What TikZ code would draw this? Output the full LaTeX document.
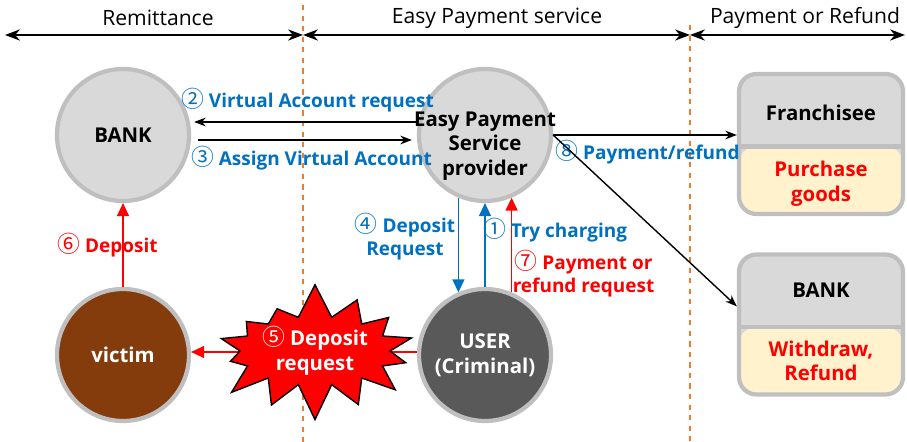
\documentclass[tikz,border=0pt]{standalone}
\usepackage{fontspec}
\setmainfont{Open Sans}
\newfontfamily\circfont{Noto Sans CJK KR}
\newcommand{\stepno}[1]{{\circfont\mdseries\fontsize{13}{13}\selectfont #1}}
\usetikzlibrary{arrows.meta,shapes.symbols}
\definecolor{flowblue}{RGB}{0,112,192}
\definecolor{flowred}{RGB}{255,0,0}
\definecolor{zoneorange}{RGB}{237,125,49}
\definecolor{discgray}{RGB}{217,217,217}
\definecolor{ringgray}{RGB}{191,191,191}
\definecolor{victimbrown}{RGB}{132,60,12}
\definecolor{userdark}{RGB}{89,89,89}
\definecolor{cream}{RGB}{255,242,204}
\begin{document}
\begin{tikzpicture}[
    >={Triangle[length=2.6mm,width=2.4mm]},
    line width=0.8pt,
    party/.style={circle, draw=ringgray, line width=2.4pt, minimum size=2.64cm, inner sep=0pt, font=\bfseries\fontsize{11.6}{14}\selectfont, align=center},
    lbl/.style={font=\bfseries\fontsize{10.8}{13}\selectfont, align=center, inner sep=1pt},
    big/.style={font=\bfseries\fontsize{11.6}{14}\selectfont, align=center, inner sep=1pt},
    zone/.style={font=\large, inner sep=1pt},
    outlet/.style={draw=ringgray, line width=2.4pt, rounded corners=0.35cm, fill=discgray,
      minimum width=3.28cm, minimum height=2.8cm,
      path picture={\fill[cream] (path picture bounding box.south west) rectangle ([yshift=-1.45cm]path picture bounding box.north east);
        \draw[ringgray, line width=2.4pt] ([yshift=-1.45cm]path picture bounding box.north west) -- ([yshift=-1.45cm]path picture bounding box.north east);}},
    divider/.style={zoneorange, dashed, line width=0.8pt}
]
  \useasboundingbox (0,0) rectangle (18.14,8.84);

  % zones on top
  \coordinate (z0) at (0.10,8.14);
  \coordinate (z1) at (6.06,8.14);
  \coordinate (z2) at (13.80,8.14);
  \coordinate (z3) at (18.10,8.14);
  \draw[divider] (6.06,8.74) -- (6.06,0);
  \draw[divider] (13.80,8.34) -- (13.80,0);
  \draw[{Stealth[length=3mm]}-{Stealth[length=3mm]}] (z0) -- (z1);
  \draw[{Stealth[length=3mm]}-{Stealth[length=3mm]}] (z1) -- (z2);
  \draw[{Stealth[length=3mm]}-{Stealth[length=3mm]}] (z2) -- (z3);
  \node[zone] (remit) at (3.16,8.48) {Remittance};
  \node[zone] (easy) at (9.94,8.48) {Easy Payment service};
  \node[zone] (payref) at (16.10,8.48) {Payment or Refund};

  % parties
  \node[party, fill=discgray] (bank) at (2.46,6.14) {BANK};
  \node[party, fill=discgray] (eps) at (9.70,6.14) {};
  \node[big] (epstext) at (9.70,5.92) {Easy Payment\\Service\\provider};
  \node[party, fill=victimbrown, text=white] (victim) at (2.46,1.74) {victim};
  \node[party, fill=userdark, text=white] (user) at (9.70,1.74) {USER\\(Criminal)};

  % outlets
  \node[outlet] (franch) at (16.42,5.96) {};
  \node[big] (franchtop) at (16.42,6.58) {Franchisee};
  \node[big, text=flowred] (franchbot) at (16.42,5.16) {Purchase\\goods};
  \node[outlet] (bankbox) at (16.42,2.35) {};
  \node[big] (bankboxtop) at (16.42,3.04) {BANK};
  \node[big, text=flowred] (bankboxbot) at (16.42,1.62) {Withdraw,\\Refund};

  % edges
  \draw[->, >=Stealth] ([yshift=0.26cm]eps.west) -- ([yshift=0.26cm,xshift=0.06cm]bank.east);
  \draw[->, >=Stealth] ([yshift=-0.10cm,xshift=0.14cm]bank.east) -- ([yshift=-0.10cm,xshift=-0.1cm]eps.west);
  \draw[->, flowblue] (eps.-113) -- (user.113);
  \draw[->, flowblue] (user.north) -- (eps.south);
  \draw[->, flowred] (user.67) -- (eps.-67);
  \draw[->, flowred] ([yshift=0.06cm]user.west) -- ([yshift=0.06cm]victim.east);
  \draw[->, flowred] (victim.north) -- (bank.south);
  \node[starburst, starburst points=14, starburst point height=0.7cm, random starburst=7,
        fill=flowred, draw=black, line width=0.8pt, minimum width=2.5cm, minimum height=2.3cm,
        text=white, font=\bfseries\fontsize{11.6}{14}\selectfont, align=center, inner sep=0pt] (burst) at (6.30,1.82) {\stepno{⑤} Deposit\\request};

  % step labels
  \node[lbl, text=flowblue] (s2) at (6.15,6.84) {\stepno{②} Virtual Account request};
  \node[lbl, text=flowblue] (s3) at (6.23,5.68) {\stepno{③} Assign Virtual Account};
  \node[lbl, text=flowblue] (s8) at (12.95,5.80) {\stepno{⑧} Payment/refund};
  \node[lbl, text=flowblue] (s4) at (8.10,4.10) {\stepno{④} Deposit\\Request};
  \node[lbl, text=flowblue] (s1) at (11.10,4.24) {\stepno{①} Try charging};
  \node[lbl, text=flowred] (s7) at (11.67,3.36) {\stepno{⑦} Payment or\\refund request};
  \node[lbl, text=flowred] (s6) at (2.15,3.94) {\stepno{⑥} Deposit};
  \draw[->, >=Stealth] (eps.east) -- (franch.west |- eps.east);
  \draw[->, >=Stealth] (eps.east) -- ([yshift=-1.08cm]bankbox.north west);
\end{tikzpicture}
\end{document}
